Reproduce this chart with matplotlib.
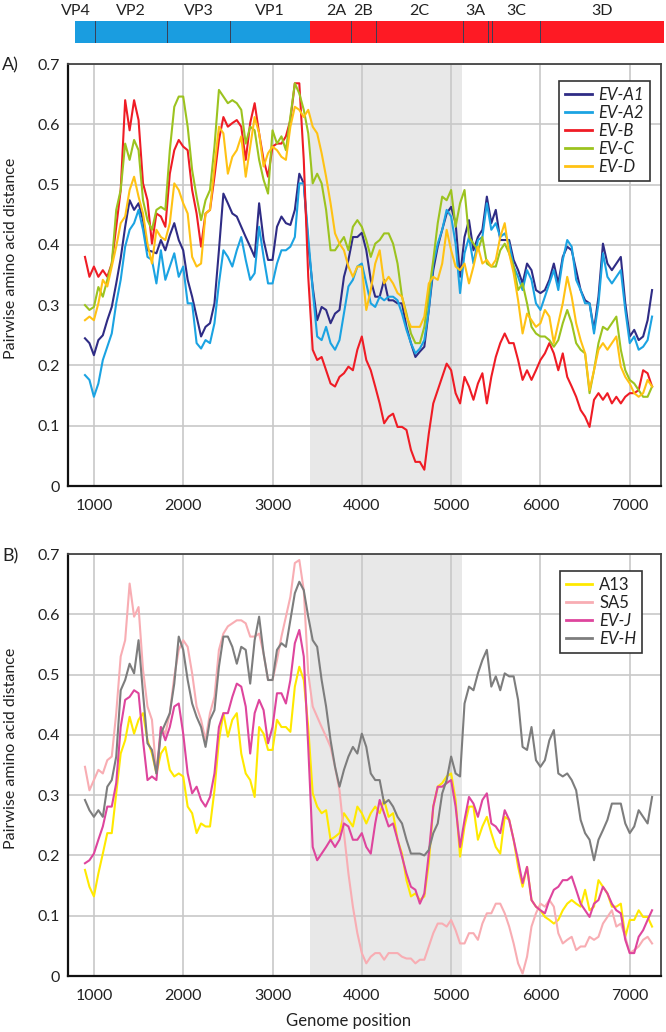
import matplotlib
matplotlib.use('Agg')
import matplotlib.pyplot as plt
from matplotlib.patches import Rectangle

plt.rcParams['font.family'] = ['Lato', 'DejaVu Sans']

# Genomposition (Fenstermitte) – gemeinsames Raster für alle Kurven
positions = list(range(900, 7251, 50))

# Panel A
ev_a1 = [0.245, 0.237, 0.217, 0.242, 0.25, 0.275, 0.297, 0.336, 0.378, 0.43,
         0.474, 0.458, 0.469, 0.441, 0.391, 0.389, 0.386, 0.408, 0.391, 0.416,
         0.436, 0.408, 0.391, 0.342, 0.314, 0.281, 0.248, 0.264, 0.27, 0.303,
         0.391, 0.485, 0.469, 0.452, 0.447, 0.43, 0.413, 0.397, 0.38, 0.469,
         0.408, 0.375, 0.375, 0.43, 0.447, 0.436, 0.433, 0.458, 0.518, 0.502,
         0.40, 0.33, 0.275, 0.297, 0.292, 0.27, 0.286, 0.292, 0.347, 0.375,
         0.413, 0.413,
         0.42, 0.391, 0.342, 0.314, 0.314, 0.342, 0.308, 0.308, 0.303, 0.303,
         0.264, 0.237, 0.214, 0.223, 0.231, 0.292, 0.358, 0.397, 0.425, 0.452,
         0.463, 0.436, 0.347, 0.413, 0.441, 0.391, 0.413, 0.425, 0.48, 0.436,
         0.458, 0.408, 0.408, 0.408, 0.375, 0.358, 0.336, 0.369, 0.358, 0.325,
         0.32, 0.325, 0.342, 0.369, 0.336, 0.38, 0.397, 0.391, 0.358, 0.325,
         0.308, 0.303, 0.259, 0.314, 0.402, 0.369, 0.358, 0.369, 0.38, 0.303,
         0.248, 0.259, 0.242, 0.248, 0.275, 0.325]
ev_a2 = [0.184, 0.176, 0.148, 0.17, 0.209, 0.231, 0.253, 0.303, 0.342, 0.397,
         0.425, 0.436, 0.458, 0.425, 0.38, 0.375, 0.336, 0.391, 0.342, 0.364,
         0.386, 0.347, 0.364, 0.303, 0.303, 0.237, 0.228, 0.242, 0.237, 0.27,
         0.336, 0.391, 0.38, 0.364, 0.391, 0.413, 0.375, 0.342, 0.353, 0.43,
         0.38, 0.336, 0.336, 0.369, 0.391, 0.391, 0.397, 0.413, 0.502, 0.502,
         0.413, 0.325, 0.248, 0.242, 0.264, 0.237, 0.226, 0.242, 0.286, 0.331,
         0.342, 0.364,
         0.369, 0.336, 0.303, 0.297, 0.314, 0.308, 0.314, 0.314, 0.308, 0.286,
         0.259, 0.237, 0.22, 0.228, 0.242, 0.292, 0.369, 0.402, 0.425, 0.458,
         0.447, 0.402, 0.32, 0.386, 0.413, 0.369, 0.408, 0.413, 0.469, 0.425,
         0.436, 0.413, 0.419, 0.402, 0.364, 0.347, 0.325, 0.358, 0.342, 0.303,
         0.292, 0.314, 0.336, 0.358, 0.325, 0.375, 0.408, 0.397, 0.342, 0.325,
         0.303, 0.303, 0.253, 0.303, 0.386, 0.347, 0.336, 0.347, 0.358, 0.292,
         0.237, 0.248, 0.226, 0.231, 0.242, 0.281]
ev_b = [0.38, 0.347, 0.364, 0.347, 0.358, 0.347, 0.369, 0.43, 0.491, 0.64,
        0.59, 0.64, 0.607, 0.502, 0.474, 0.402, 0.452, 0.447, 0.43, 0.518,
        0.557, 0.574, 0.563, 0.557, 0.491, 0.452, 0.397, 0.452, 0.458, 0.513,
        0.574, 0.612, 0.596, 0.602, 0.607, 0.596, 0.541, 0.602, 0.635, 0.585,
        0.541, 0.513, 0.563, 0.568, 0.568, 0.58, 0.607, 0.668, 0.668, 0.541,
        0.347, 0.226, 0.209, 0.214, 0.192, 0.17, 0.165, 0.181, 0.187, 0.198,
        0.192, 0.226,
        0.248, 0.209, 0.192, 0.165, 0.137, 0.104, 0.115, 0.12, 0.098, 0.098,
        0.093, 0.06, 0.04, 0.04, 0.027, 0.087, 0.137, 0.159, 0.181, 0.203,
        0.192, 0.154, 0.137, 0.181, 0.165, 0.143, 0.17, 0.187, 0.137, 0.181,
        0.214, 0.237, 0.253, 0.237, 0.237, 0.209, 0.176, 0.192, 0.176, 0.192,
        0.209, 0.22, 0.237, 0.22, 0.192, 0.22, 0.181, 0.165, 0.148, 0.126,
        0.115, 0.098, 0.143, 0.154, 0.143, 0.154, 0.137, 0.148, 0.137, 0.148,
        0.154, 0.154, 0.159, 0.192, 0.187, 0.165]
ev_c = [0.30, 0.292, 0.297, 0.33, 0.314, 0.342, 0.369, 0.458, 0.491, 0.568,
        0.541, 0.574, 0.557, 0.474, 0.441, 0.425, 0.458, 0.463, 0.458, 0.557,
        0.629, 0.646, 0.646, 0.596, 0.524, 0.48, 0.441, 0.474, 0.491, 0.563,
        0.657, 0.646, 0.635, 0.64, 0.635, 0.624, 0.568, 0.596, 0.59, 0.541,
        0.508, 0.485, 0.59, 0.568, 0.58, 0.557, 0.612, 0.668, 0.651, 0.624,
        0.585, 0.502, 0.518, 0.502, 0.458, 0.391, 0.391, 0.402, 0.413, 0.391,
        0.43, 0.441,
        0.43, 0.408, 0.38, 0.402, 0.408, 0.419, 0.419, 0.402, 0.369, 0.314,
        0.286, 0.253, 0.237, 0.237, 0.264, 0.32, 0.375, 0.436, 0.48, 0.474,
        0.491, 0.43, 0.469, 0.491, 0.413, 0.402, 0.391, 0.413, 0.369, 0.364,
        0.364, 0.391, 0.402, 0.386, 0.364, 0.325, 0.336, 0.303, 0.264, 0.253,
        0.248, 0.248, 0.242, 0.231, 0.242, 0.27, 0.292, 0.27, 0.237, 0.226,
        0.22, 0.154, 0.192, 0.237, 0.264, 0.259, 0.27, 0.281, 0.226, 0.192,
        0.176, 0.17, 0.159, 0.148, 0.148, 0.165]
ev_d = [0.275, 0.281, 0.275, 0.303, 0.342, 0.331, 0.364, 0.397, 0.436, 0.447,
        0.491, 0.513, 0.48, 0.452, 0.402, 0.369, 0.425, 0.413, 0.408, 0.436,
        0.502, 0.491, 0.469, 0.452, 0.38, 0.364, 0.369, 0.452, 0.458, 0.53,
        0.596, 0.585, 0.518, 0.546, 0.557, 0.58, 0.513, 0.563, 0.612, 0.585,
        0.53, 0.552, 0.563, 0.557, 0.546, 0.541, 0.596, 0.629, 0.624, 0.612,
        0.624, 0.596, 0.585, 0.552, 0.513, 0.469, 0.419, 0.402, 0.391, 0.364,
        0.347, 0.364,
        0.364, 0.292, 0.325, 0.369, 0.391, 0.336, 0.347, 0.336, 0.32, 0.314,
        0.281, 0.264, 0.264, 0.264, 0.281, 0.336, 0.347, 0.342, 0.369, 0.425,
        0.391, 0.364, 0.358, 0.369, 0.336, 0.364, 0.397, 0.369, 0.375, 0.364,
        0.375, 0.413, 0.436, 0.386, 0.353, 0.308, 0.253, 0.286, 0.275, 0.264,
        0.27, 0.292, 0.281, 0.237, 0.27, 0.303, 0.347, 0.314, 0.27, 0.242,
        0.22, 0.159, 0.192, 0.226, 0.237, 0.226, 0.237, 0.248, 0.198, 0.181,
        0.17, 0.154, 0.148, 0.154, 0.176, 0.165]

# Panel B
a13 = [0.176, 0.148, 0.132, 0.17, 0.203, 0.237, 0.237, 0.303, 0.369, 0.391,
       0.43, 0.402, 0.425, 0.436, 0.391, 0.369, 0.336, 0.369, 0.38, 0.342,
       0.331, 0.336, 0.331, 0.281, 0.27, 0.237, 0.253, 0.248, 0.248, 0.308,
       0.391, 0.436, 0.397, 0.425, 0.436, 0.369, 0.336, 0.325, 0.297, 0.413,
       0.402, 0.375, 0.375, 0.425, 0.413, 0.413, 0.405, 0.48, 0.513, 0.491,
       0.413, 0.303, 0.281, 0.27, 0.275, 0.226, 0.231, 0.237, 0.27, 0.259,
       0.248, 0.281,
       0.27, 0.253, 0.27, 0.281, 0.27, 0.292, 0.264, 0.27, 0.226, 0.203,
       0.159, 0.132, 0.137, 0.126, 0.132, 0.187, 0.281, 0.314, 0.32, 0.331,
       0.336, 0.292, 0.198, 0.248, 0.281, 0.281, 0.226, 0.248, 0.264, 0.237,
       0.214, 0.203, 0.264, 0.259, 0.226, 0.181, 0.148, 0.181, 0.126, 0.115,
       0.109, 0.098, 0.093, 0.087, 0.093, 0.109, 0.12, 0.126, 0.12, 0.115,
       0.143, 0.109, 0.115, 0.159, 0.148, 0.137, 0.115, 0.115, 0.12, 0.065,
       0.093, 0.093, 0.109, 0.098, 0.098, 0.082]
sa5 = [0.347, 0.308, 0.325, 0.342, 0.336, 0.358, 0.364, 0.436, 0.53, 0.557,
       0.651, 0.596, 0.612, 0.508, 0.447, 0.425, 0.336, 0.413, 0.402, 0.436,
       0.497, 0.541, 0.557, 0.546, 0.502, 0.447, 0.425, 0.391, 0.436, 0.463,
       0.541, 0.568, 0.58, 0.585, 0.59, 0.59, 0.585, 0.563, 0.563, 0.568,
       0.535, 0.491, 0.491, 0.524, 0.563, 0.596, 0.629, 0.685, 0.69, 0.64,
       0.502, 0.447, 0.43, 0.413, 0.397, 0.38, 0.347, 0.308, 0.237, 0.17,
       0.115, 0.071,
       0.038, 0.021, 0.032, 0.038, 0.038, 0.027, 0.038, 0.038, 0.038, 0.032,
       0.029, 0.029, 0.021, 0.027, 0.027, 0.049, 0.071, 0.087, 0.087, 0.082,
       0.093, 0.076, 0.054, 0.054, 0.071, 0.071, 0.06, 0.087, 0.104, 0.104,
       0.12, 0.12, 0.104, 0.082, 0.054, 0.021, 0.004, 0.032, 0.082, 0.104,
       0.12, 0.115, 0.126, 0.115, 0.071, 0.054, 0.06, 0.065, 0.043, 0.049,
       0.049, 0.065, 0.06, 0.065, 0.087, 0.098, 0.109, 0.082, 0.087, 0.065,
       0.038, 0.043, 0.049, 0.06, 0.065, 0.054]
ev_j = [0.187, 0.192, 0.203, 0.226, 0.248, 0.281, 0.281, 0.32, 0.413, 0.458,
        0.463, 0.474, 0.469, 0.391, 0.325, 0.331, 0.325, 0.413, 0.391, 0.413,
        0.447, 0.452, 0.402, 0.336, 0.303, 0.314, 0.292, 0.281, 0.297, 0.336,
        0.413, 0.436, 0.436, 0.463, 0.485, 0.48, 0.447, 0.369, 0.436, 0.458,
        0.441, 0.386, 0.413, 0.469, 0.469, 0.452, 0.491, 0.552, 0.574, 0.53,
        0.38, 0.214, 0.192, 0.203, 0.214, 0.226, 0.214, 0.226, 0.253, 0.248,
        0.226, 0.226,
        0.237, 0.214, 0.203, 0.253, 0.292, 0.27, 0.248, 0.253, 0.226, 0.198,
        0.17, 0.148, 0.143, 0.12, 0.137, 0.203, 0.281, 0.314, 0.314, 0.32,
        0.325, 0.281, 0.214, 0.259, 0.297, 0.286, 0.264, 0.292, 0.303, 0.253,
        0.248, 0.237, 0.275, 0.259, 0.226, 0.192, 0.154, 0.181, 0.126, 0.115,
        0.109, 0.104, 0.126, 0.143, 0.148, 0.159, 0.159, 0.165, 0.143, 0.12,
        0.109, 0.098, 0.12, 0.126, 0.148, 0.137, 0.12, 0.109, 0.104, 0.06,
        0.038, 0.038, 0.065, 0.076, 0.093, 0.109]
ev_h = [0.292, 0.275, 0.264, 0.275, 0.264, 0.314, 0.325, 0.364, 0.474, 0.491,
        0.518, 0.502, 0.557, 0.469, 0.386, 0.375, 0.336, 0.402, 0.419, 0.436,
        0.485, 0.563, 0.541, 0.491, 0.452, 0.43, 0.413, 0.38, 0.425, 0.441,
        0.513, 0.563, 0.563, 0.546, 0.518, 0.546, 0.541, 0.485, 0.557, 0.596,
        0.535, 0.491, 0.491, 0.541, 0.552, 0.546, 0.59, 0.635, 0.654, 0.64,
        0.596, 0.557, 0.546, 0.491, 0.447, 0.391, 0.347, 0.314, 0.342, 0.364,
        0.38, 0.369,
        0.402, 0.38, 0.336, 0.325, 0.325, 0.286, 0.292, 0.281, 0.264, 0.253,
        0.226, 0.203, 0.203, 0.203, 0.2, 0.209, 0.237, 0.253, 0.303, 0.325,
        0.364, 0.336, 0.331, 0.452, 0.48, 0.474, 0.502, 0.524, 0.541, 0.48,
        0.497, 0.474, 0.502, 0.497, 0.497, 0.458, 0.38, 0.375, 0.413, 0.358,
        0.347, 0.358, 0.391, 0.408, 0.336, 0.331, 0.336, 0.325, 0.308, 0.259,
        0.237, 0.226, 0.192, 0.226, 0.242, 0.259, 0.286, 0.286, 0.286, 0.253,
        0.237, 0.248, 0.275, 0.264, 0.253, 0.297]

# Genomkarte oben
genes = ['VP4', 'VP2', 'VP3', 'VP1', '2A', '2B', '2C', '3A', '3B', '3C', '3D']
gene_starts = [788, 1007, 1819, 2524, 3420, 3879, 4159, 5133, 5413, 5458, 5995]
genome_end = 7383

shade_start, shade_end = 3420, 5120
xlim = (710, 7350)

W, H = 666, 1032
fig = plt.figure(figsize=(W / 100, H / 100), dpi=100)


def px_box(left, top, right, bottom):
    return [left / W, 1 - bottom / H, (right - left) / W, (bottom - top) / H]


# --- Genomkarte ---
ax_bar = fig.add_axes(px_box(68, 21, 666, 43))
ax_bar.set_xlim(710, 710 + (666 - 68) * (xlim[1] - xlim[0]) / 593)
ax_bar.set_ylim(0, 1)
ax_bar.axis('off')
ends = gene_starts[1:] + [genome_end]
label_shift = {'VP4': -100, '2A': 60}
for name, start, end in zip(genes, gene_starts, ends):
    col = '#1a9de0' if name.startswith('VP') else '#fe1a24'
    ax_bar.add_patch(Rectangle((start, 0), end - start, 1, facecolor=col, edgecolor='none'))
    if name != '3B':
        ax_bar.text((start + end) / 2 + label_shift.get(name, 0), 1.45, name,
                    ha='center', va='center', fontsize=11.5, color='#222222')
for name, start in zip(genes[1:], gene_starts[1:]):
    if name == '2A':
        continue
    ax_bar.plot([start, start], [0, 1], color='#3a3f55', lw=0.7)


def draw_panel(box, series, labels, colors, italics, anchor):
    ax = fig.add_axes(px_box(*box))
    ax.axvspan(shade_start, shade_end, color='#e8e8e8', zorder=0.1, lw=0)
    for vals, lab, col in zip(series, labels, colors):
        ax.plot(positions, vals, color=col, lw=1.5, label=lab, zorder=3)
    ax.set_xlim(*xlim)
    ax.set_ylim(0, 0.7)
    ax.set_xticks([1000, 2000, 3000, 4000, 5000, 6000, 7000])
    ax.set_yticks([0, 0.1, 0.2, 0.3, 0.4, 0.5, 0.6, 0.7])
    ax.set_yticklabels(['0', '0.1', '0.2', '0.3', '0.4', '0.5', '0.6', '0.7'])
    ax.tick_params(length=0, labelsize=11.5, colors='#222222', pad=6)
    ax.tick_params(axis='x', pad=9)
    ax.set_axisbelow(True)
    ax.grid(True, color='#c8c8c8', lw=1.2)
    for side in ['left', 'bottom']:
        ax.spines[side].set_color('#111111')
        ax.spines[side].set_linewidth(1.6)
    for side in ['top', 'right']:
        ax.spines[side].set_color('#444444')
        ax.spines[side].set_linewidth(1.3)
    leg = ax.legend(loc='upper right', bbox_to_anchor=anchor, borderaxespad=0,
                    fontsize=12, frameon=True, fancybox=False, framealpha=1,
                    edgecolor='#333333', handlelength=1.6, handletextpad=0.4,
                    labelspacing=0.12, borderpad=0.35)
    leg.get_frame().set_linewidth(1.2)
    for txt, it in zip(leg.get_texts(), italics):
        txt.set_style('italic' if it else 'normal')
        txt.set_color('#222222')
    for h in leg.get_lines():
        h.set_linewidth(2)
    return ax


draw_panel((68, 64, 661, 486), [ev_a1, ev_a2, ev_b, ev_c, ev_d],
           ['EV-A1', 'EV-A2', 'EV-B', 'EV-C', 'EV-D'],
           ['#2f2c85', '#1ba3e2', '#ef1c25', '#9cc31f', '#ffc214'],
           [True] * 5, (0.981, 0.960))
draw_panel((68, 554, 661, 976), [a13, sa5, ev_j, ev_h],
           ['A13', 'SA5', 'EV-J', 'EV-H'],
           ['#ffe900', '#f8adb3', '#de459d', '#7d7d7d'],
           [False, False, True, True], (0.968, 0.960))

fig.text(2 / W, 1 - 65 / H, 'A)', fontsize=13, va='center', ha='left', color='#222222')
fig.text(2 / W, 1 - 556 / H, 'B)', fontsize=13, va='center', ha='left', color='#222222')
fig.text(11 / W, 1 - 258 / H, 'Pairwise amino acid distance', rotation=90,
         fontsize=11.5, va='center', ha='center', color='#222222')
fig.text(11 / W, 1 - 748 / H, 'Pairwise amino acid distance', rotation=90,
         fontsize=11.5, va='center', ha='center', color='#222222')
fig.text(349 / W, 1 - 1021 / H, 'Genome position', fontsize=12,
         va='center', ha='center', color='#222222')

fig.savefig('out.png', dpi=100)
